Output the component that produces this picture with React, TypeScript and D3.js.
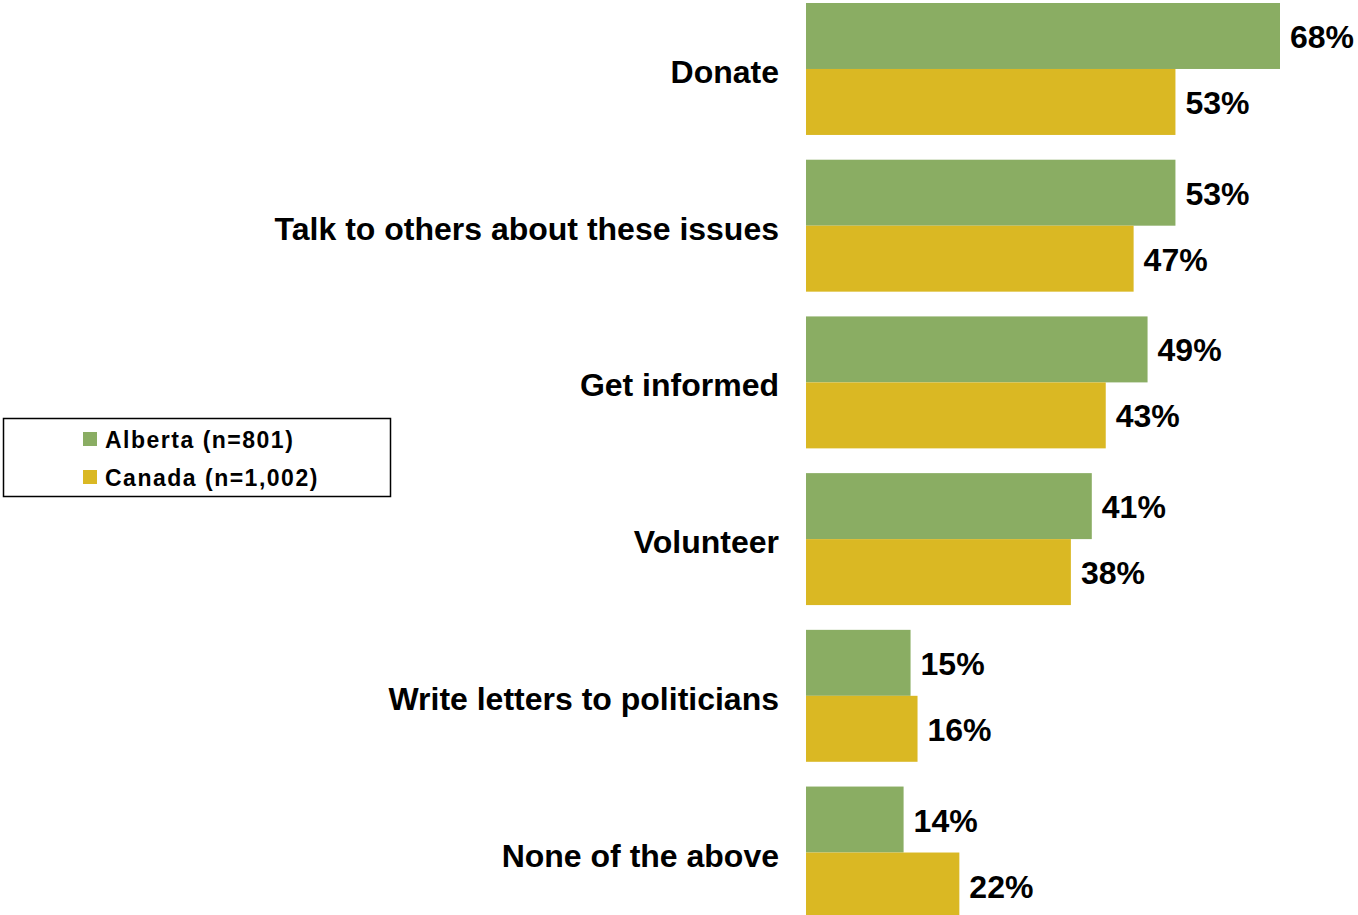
import React from "react";
import * as d3 from "d3";

const categories = [
  "Donate",
  "Talk to others about these issues",
  "Get informed",
  "Volunteer",
  "Write letters to politicians",
  "None of the above",
];
const albertaValues = [68, 53, 49, 41, 15, 14];
const canadaValues = [53, 47, 43, 38, 16, 22];
const seriesNames = ["Alberta (n=801)", "Canada (n=1,002)"];
const seriesColors = ["#8AAD63", "#DAB823"];

const W = 1358;
const H = 915;
const FONT = "'Liberation Sans', Arial, Helvetica, sans-serif";

export default function App() {
  const x = d3.scaleLinear().domain([0, 68]).range([806, 1280]);
  const y = d3
    .scaleBand<string>()
    .domain(categories)
    .range([3, 918.5])
    .paddingInner(0.158)
    .paddingOuter(0);
  const sub = d3
    .scaleBand<number>()
    .domain([0, 1])
    .range([0, y.bandwidth()])
    .padding(0);

  const series = [albertaValues, canadaValues];

  return (
    <svg
      width={W}
      height={H}
      style={{ position: "absolute", left: 0, top: 0, background: "#fff" }}
      fontFamily={FONT}
    >
      {categories.map((c, i) => {
        const gy = y(c)!;
        return (
          <g key={c}>
            <text
              x={779}
              y={gy + y.bandwidth() / 2 + 3}
              textAnchor="end"
              dominantBaseline="central"
              fontSize={32}
              fontWeight="bold"
              fill="#000"
            >
              {c}
            </text>
            {series.map((vals, s) => {
              const by = gy + sub(s)!;
              const v = vals[i];
              return (
                <g key={s}>
                  <rect
                    x={x(0)}
                    y={by}
                    width={x(v) - x(0)}
                    height={sub.bandwidth()}
                    fill={seriesColors[s]}
                  />
                  <text
                    x={x(v) + 10}
                    y={by + sub.bandwidth() / 2 + 1}
                    dominantBaseline="central"
                    fontSize={32}
                    fontWeight="bold"
                    fill="#000"
                  >
                    {v}%
                  </text>
                </g>
              );
            })}
          </g>
        );
      })}
      <g>
        <rect x={3.5} y={418.5} width={387} height={78} fill="#fff" stroke="#000" strokeWidth={1.5} />
        {seriesNames.map((n, s) => (
          <g key={n}>
            <rect x={83} y={432 + s * 38} width={14} height={14} fill={seriesColors[s]} />
            <text
              x={105}
              y={440 + s * 38}
              dominantBaseline="central"
              fontSize={23}
              fontWeight="bold"
              letterSpacing={1.5}
              fill="#000"
            >
              {n}
            </text>
          </g>
        ))}
      </g>
    </svg>
  );
}
